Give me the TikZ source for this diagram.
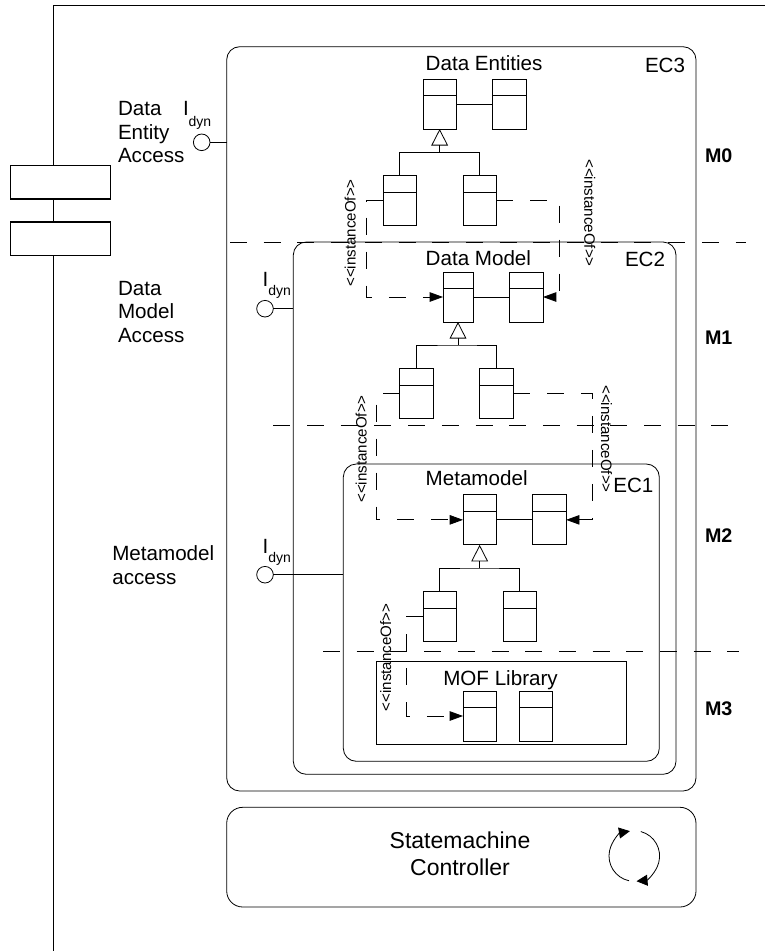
\documentclass[tikz,border=0pt]{standalone}
\usepackage{fontspec}
\setmainfont{Liberation Sans}
\usetikzlibrary{arrows.meta}
\newcommand{\iofname}{<{}<instanceOf>{}>}
\tikzset{
  x=1pt,y=-1pt,
  line/.style={line width=0.8pt,black},
  frameline/.style={line width=1.3pt,black},
  cls/.style={line,draw,fill=white,minimum width=#1,minimum height=50pt,inner sep=0pt,outer sep=0pt,
    path picture={\draw[line] ([yshift=-16.67pt]path picture bounding box.north west) -- ([yshift=-16.67pt]path picture bounding box.north east);}},
  cls/.default=33.3pt,
  ecbox/.style={line,draw,rounded corners=13pt,inner sep=0pt,outer sep=0pt},
  port/.style={line,draw,circle,minimum size=16.6pt,inner sep=0pt,outer sep=0pt},
  portwire/.style={line},
  sep/.style={line,dash pattern=on 17pt off 16.7pt},
  inst/.style={line,dash pattern=on 17pt off 17pt,-{Triangle[length=13.3pt,width=9.5pt]}},
  gen/.style={line,-{Triangle[open,length=16.5pt,width=16.7pt]}},
  lab/.style={inner sep=0pt,outer sep=0pt,anchor=base west,font=\fontsize{20.6}{23.5}\selectfont},
  multilab/.style={lab,align=left},
  sublab/.style={inner sep=0pt,outer sep=0pt,anchor=base west,font=\fontsize{14}{16}\selectfont},
  mlab/.style={inner sep=0pt,outer sep=0pt,anchor=base west,font=\fontsize{19.7}{22}\selectfont\bfseries},
  iof/.style={inner sep=0pt,outer sep=0pt,anchor=base,font=\fontsize{15.1}{17}\selectfont},
  barbox/.style={frameline,draw,fill=white,minimum width=99.6pt,minimum height=33.4pt,inner sep=0pt,outer sep=0pt},
}
\begin{document}
\begin{tikzpicture}
\useasboundingbox (0,0) rectangle (765,951);
% frame
\coordinate (ftr) at (765,5.5);
\coordinate (ftl) at (53.5,5.5);
\coordinate (fbl) at (53.5,951);
\draw[frameline] (ftr) -- (ftl) -- (fbl);
\node[barbox] (bar1) at (60.5,182.3) {};
\node[barbox] (bar2) at (60.5,238.7) {};
% containers
\node[ecbox,minimum width=469.3pt,minimum height=744.3pt] (ec3) at (461.35,418.85) {};
\node[ecbox,minimum width=382.7pt,minimum height=532.3pt] (ec2) at (484.65,508.15) {};
\node[ecbox,minimum width=316pt,minimum height=297.3pt] (ec1) at (501.3,612.65) {};
\node[line,draw,minimum width=249.7pt,minimum height=83.3pt,inner sep=0pt,outer sep=0pt] (mof) at (501.15,702.65) {};
\node[ecbox,rounded corners=16pt,minimum width=469.3pt,minimum height=99.7pt] (ctl) at (461.35,857.15) {};
% separators
\coordinate (s1a) at (230,242); \coordinate (s1b) at (746,242);
\coordinate (s2a) at (273.3,425); \coordinate (s2b) at (730,425);
\coordinate (s3a) at (323,651); \coordinate (s3b) at (739,651);
\draw[sep] (s1a) -- (s1b);
\draw[sep] (s2a) -- (s2b);
\draw[sep] (s3a) -- (s3b);
% ports
\node[port] (p1) at (201.7,142.3) {};
\node[port] (p2) at (265,308.7) {};
\node[port] (p3) at (265,574.7) {};
\draw[portwire] (p1) -- (p1 -| ec3.west);
\draw[portwire] (p2) -- (p2 -| ec2.west);
\draw[portwire] (p3) -- (p3 -| ec1.west);
% classes
\node[cls] (e1) at (439.65,104) {};
\node[cls] (e2) at (509.5,104) {};
\node[cls] (e3) at (399.8,200.5) {};
\node[cls] (e4) at (479.65,200.5) {};
\node[cls=30pt] (d1) at (458,297) {};
\node[cls] (d2) at (526.35,297) {};
\node[cls] (d3) at (416.35,393.5) {};
\node[cls] (d4) at (496.35,393.5) {};
\node[cls] (m1) at (479.65,519.85) {};
\node[cls] (m2) at (549.5,519.85) {};
\node[cls] (m3) at (439.65,616.3) {};
\node[cls] (m4) at (519.65,616.3) {};
\node[cls] (f1) at (479.65,716) {};
\node[cls] (f2) at (536,716) {};
% associations
\draw[line] (e1) -- (e2);
\draw[line] (d1) -- (d2);
\draw[line] (m1) -- (m2);
% generalisations
\coordinate (j1) at (439.65,152.3);
\coordinate (j2) at (458,345);
\coordinate (j3) at (479.65,568);
\draw[line] (e3.north) |- (j1) -| (e4.north);
\draw[gen] (j1) -- (e1.south);
\draw[line] (d3.north) |- (j2) -| (d4.north);
\draw[gen] (j2) -- (d1.south);
\draw[line] (m3.north) |- (j3) -| (m4.north);
\draw[gen] (j3) -- (m1.south);
% instance-of
\coordinate (k1) at (366.3,200.5);
\coordinate (k2) at (559.3,200.5);
\coordinate (k3) at (376.7,393.5);
\coordinate (k4) at (592.7,393.5);
\coordinate (k5) at (406.8,616.3);
\draw[inst] (e3.west) -- (k1) |- (d1.west);
\draw[inst] (e4.east) -- (k2) |- (d2.east);
\draw[inst] (d3.west) -- (k3) |- (m1.west);
\draw[inst] (d4.east) -- (k4) |- (m2.east);
\draw[inst] (m3.west) -- (k5) |- (f1.west);
% cycle
\coordinate (cyc) at (634.3,856);
\draw[line,-{Triangle[length=11pt,width=11pt]}] ([shift={(258:25.3pt)}]cyc) arc[start angle=258,end angle=100,radius=25.3pt];
\draw[line,-{Triangle[length=11pt,width=11pt]}] ([shift={(75:25.3pt)}]cyc) arc[start angle=75,end angle=-85,radius=25.3pt];
% labels
\node[lab] (tDE) at (425.7,70) {Data Entities};
\node[lab] (tDM) at (425.7,265.7) {Data Model};
\node[lab] (tMM) at (425.7,485) {Metamodel};
\node[lab] (tML) at (443.3,685) {MOF Library};
\node[lab] (tE3) at (645,72.7) {EC3};
\node[lab] (tE2) at (625,266.7) {EC2};
\node[lab] (tE1) at (613.3,492.7) {EC1};
\node[multilab] (tA1) at (118,162.7) {Data\\Entity\\Access};
\node[multilab] (tA2) at (118,342.3) {Data\\Model\\Access};
\node[multilab] (tA3) at (112.3,584.3) {Metamodel\\access};
\node[lab] (i1) at (183,115.7) {I};
\node[sublab] (s1) at (188.7,126.7) {dyn};
\node[lab] (i2) at (262.7,286.7) {I};
\node[sublab] (s2) at (268.3,295.7) {dyn};
\node[lab] (i3) at (262.7,553.3) {I};
\node[sublab] (s3) at (268.3,562.3) {dyn};
\node[mlab] (m0) at (705,162.7) {M0};
\node[mlab] (m1t) at (705,344) {M1};
\node[mlab] (m2t) at (705,542) {M2};
\node[mlab] (m3t) at (705,715) {M3};
\node[inner sep=0pt,anchor=base,align=center,font=\fontsize{23}{27.4}\selectfont] (tSC) at (460,875.7) {Statemachine\\Controller};
\node[iof,rotate=90] (o1) at (355.7,233) {\iofname};
\node[iof,rotate=-90] (o2) at (584.3,213) {\iofname};
\node[iof,rotate=90] (o3) at (366.7,449) {\iofname};
\node[iof,rotate=-90] (o4) at (601,439) {\iofname};
\node[iof,rotate=90] (o5) at (391,657.5) {\iofname};
\end{tikzpicture}
\end{document}
